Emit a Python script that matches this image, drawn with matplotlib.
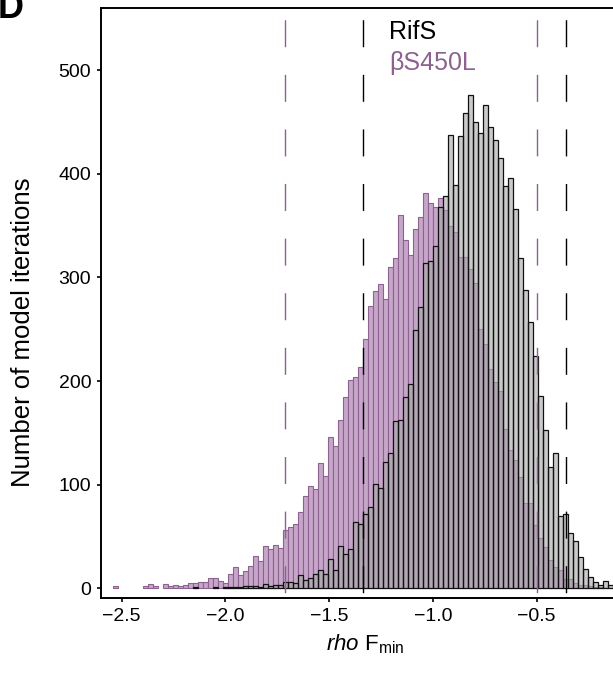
import numpy as np
import matplotlib.pyplot as plt

plt.rcParams['font.family'] = ['Liberation Sans', 'DejaVu Sans']
plt.rcParams['mathtext.fontset'] = 'custom'
plt.rcParams['mathtext.rm'] = 'Liberation Sans'
plt.rcParams['mathtext.it'] = 'Liberation Sans:italic'

# histogram bins (shared by both strains)
bin_start = -2.5405
bin_width = 0.0241

# counts per bin, beta S450L (purple)
counts_s450l = [
    2, 0, 0, 0, 0, 0, 2, 4, 2, 0,
    4, 2, 3, 2, 3, 5, 5, 6, 6, 10,
    10, 7, 5, 14, 21, 13, 17, 22, 31, 26,
    41, 38, 42, 39, 56, 59, 62, 74, 89, 99,
    96, 121, 108, 146, 137, 162, 185, 201, 204, 214,
    241, 272, 287, 294, 279, 310, 319, 360, 336, 322,
    347, 358, 381, 372, 368, 377, 365, 350, 344, 320,
    320, 308, 295, 250, 236, 212, 199, 190, 154, 133,
    124, 107, 82, 82, 61, 49, 40, 27, 21, 18,
    9, 9, 5, 3, 3, 2, 1, 1, 0, 0,
    0,
]

# counts per bin, RifS (grey)
counts_rifs = [
    0, 0, 0, 0, 0, 0, 0, 0, 0, 0,
    0, 0, 0, 0, 0, 0, 1, 0, 0, 0,
    1, 0, 1, 1, 1, 1, 2, 2, 2, 1,
    4, 2, 3, 3, 6, 6, 5, 13, 8, 10,
    14, 18, 14, 28, 18, 41, 33, 38, 64, 62,
    72, 78, 101, 97, 122, 131, 161, 162, 185, 197,
    249, 271, 314, 316, 330, 368, 379, 437, 389, 436,
    459, 476, 450, 439, 466, 445, 433, 415, 388, 396,
    366, 319, 288, 257, 224, 186, 153, 117, 131, 70,
    72, 53, 46, 30, 19, 11, 6, 3, 7, 3,
    2,
]

# interval limits (dashed lines)
limits_s450l = [-1.713, -0.500]
limits_rifs = [-1.339, -0.360]

purple = '#8d6291'
purple_fill = '#c6a6c9'
dash = (35.5, (19.44, 19.87))

edges = bin_start + bin_width * np.arange(len(counts_rifs))
p = np.array(counts_s450l)
g = np.array(counts_rifs)

fig = plt.figure(figsize=(6.13, 6.73), dpi=100)
ax = fig.add_axes([101 / 613, (673 - 598.3) / 673, 529 / 613, (598.3 - 8) / 673])

m = p > 0
ax.bar(edges[m], p[m], width=bin_width, align='edge', color=purple_fill,
       edgecolor=purple, linewidth=0.8, zorder=1)
m = g > 0
ax.bar(edges[m], g[m], width=bin_width, align='edge', color='#a8a8a8', alpha=0.6,
       edgecolor='none', zorder=2)
ax.bar(edges[m], g[m], width=bin_width, align='edge', fill=False,
       edgecolor='#111111', linewidth=0.9, zorder=2.5)

for x in limits_s450l:
    ax.axvline(x, color=purple, linewidth=1.0, linestyle=dash, zorder=3)
for x in limits_rifs:
    ax.axvline(x, color='black', linewidth=1.0, linestyle=dash, zorder=3)

ax.set_xlim(-2.6, -0.05)
ax.set_ylim(-9.65, 560)
ax.set_xticks([-2.5, -2.0, -1.5, -1.0, -0.5])
ax.set_yticks([0, 100, 200, 300, 400, 500])
ax.tick_params(direction='out', length=3, width=1.2, labelsize=14, pad=4)

for s in ['left', 'bottom', 'top']:
    ax.spines[s].set_linewidth(1.4)
ax.spines['right'].set_visible(False)

ax.set_xlabel(r'$\it{rho}$ F$_{\rm min}$', fontsize=16, labelpad=5)
ax.set_ylabel('Number of model iterations', fontsize=18.5, labelpad=8)
ax.yaxis.set_label_coords(-0.125, 0.45)

ax.text(-1.21, 530, 'RifS', fontsize=18, color='black', va='baseline')
ax.text(-1.21, 500, 'βS450L', fontsize=18, color=purple, va='baseline')

fig.text(-2, 673 - 18, 'D', fontsize=26, fontweight='bold',
         transform=None, va='baseline')

fig.savefig('out.png', dpi=100)
